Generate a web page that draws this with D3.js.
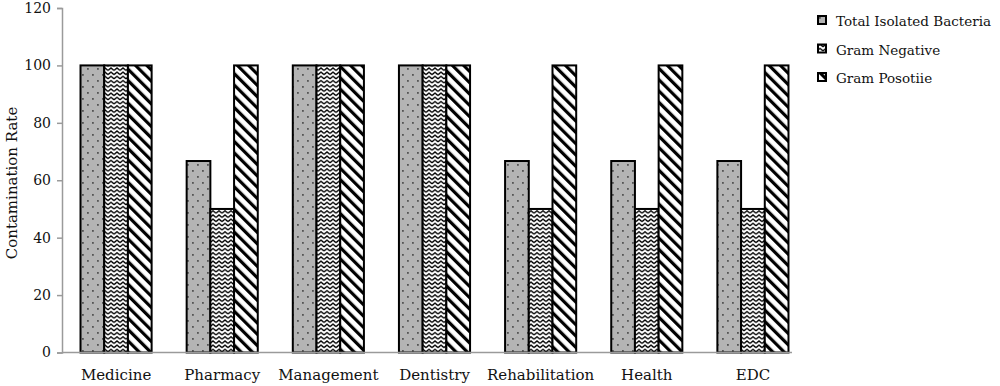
<!doctype html>
<html lang="en">
<head>
<meta charset="utf-8">
<script src="https://d3js.org/d3.v7.min.js"></script>
<style>
  body { margin: 0; background: #fff; }
  text { font-family: "DejaVu Serif", serif; fill: #111; }
</style>
</head>
<body>
<svg id="chart" width="1000" height="386"></svg>
<script>
// data
var categories = ["Medicine", "Pharmacy", "Management", "Dentistry", "Rehabilitation", "Health", "EDC"];
var seriesNames = ["Total Isolated Bacteria", "Gram Negative", "Gram Posotiie"];
var totalIsolated = [100, 66.7, 100, 100, 66.7, 66.7, 66.7];
var gramNegative = [100, 50, 100, 100, 50, 50, 50];
var gramPositive = [100, 100, 100, 100, 100, 100, 100];
var yTicks = [0, 20, 40, 60, 80, 100, 120];

var series = [totalIsolated, gramNegative, gramPositive];
var fills = ["url(#dots)", "url(#zigzag)", "url(#stripes)"];

var svg = d3.select("#chart");
var defs = svg.append("defs");

// dotted grey
var p1 = defs.append("pattern").attr("id", "dots").attr("patternUnits", "userSpaceOnUse")
  .attr("width", 10).attr("height", 12);
p1.append("rect").attr("width", 10).attr("height", 12).attr("fill", "#b4b4b4");
[[2, 2], [7, 8]].forEach(function(d) {
  p1.append("rect").attr("x", d[0]).attr("y", d[1]).attr("width", 1.8).attr("height", 1.8).attr("fill", "#555");
});

// zigzag
var p2 = defs.append("pattern").attr("id", "zigzag").attr("patternUnits", "userSpaceOnUse")
  .attr("width", 6).attr("height", 4.2);
p2.append("rect").attr("width", 6).attr("height", 4.2).attr("fill", "#fff");
p2.append("path").attr("d", "M0,3.2 L3,0.8 L6,3.2").attr("fill", "none").attr("stroke", "#000").attr("stroke-width", 1.4);

// diagonal stripes
var p3 = defs.append("pattern").attr("id", "stripes").attr("patternUnits", "userSpaceOnUse")
  .attr("width", 8).attr("height", 8).attr("patternTransform", "rotate(-45)");
p3.append("rect").attr("width", 8).attr("height", 8).attr("fill", "#fff");
p3.append("rect").attr("x", 0).attr("y", 0).attr("width", 3.2).attr("height", 8).attr("fill", "#000");

var x = d3.scaleBand().domain(categories).range([63, 806]).paddingInner(0.33).paddingOuter(0.165);
var xs = d3.scaleBand().domain(d3.range(3)).range([0, x.bandwidth()]);
var y = d3.scaleLinear().domain([0, 120]).range([352.5, 8]);

// y axis
var yAxis = svg.append("g").attr("transform", "translate(62,0)")
  .call(d3.axisLeft(y).tickValues(yTicks).tickSize(5).tickPadding(6));
yAxis.select(".domain").attr("stroke", "#9a9a9a").attr("stroke-width", 1.5);
yAxis.selectAll(".tick line").attr("stroke", "#9a9a9a").attr("stroke-width", 1.5);
yAxis.selectAll("text").style("font-size", "14px").attr("fill", "#111");

// bars
categories.forEach(function(c, i) {
  series.forEach(function(s, j) {
    svg.append("rect")
      .attr("x", x(c) + xs(j))
      .attr("y", y(s[i]))
      .attr("width", xs.bandwidth())
      .attr("height", y(0) - y(s[i]))
      .attr("fill", fills[j])
      .attr("stroke", "#000")
      .attr("stroke-width", 2);
  });
});

// x axis
var xAxis = svg.append("g").attr("transform", "translate(0," + y(0) + ")")
  .call(d3.axisBottom(x).tickSize(0).tickPadding(17));
xAxis.select(".domain").attr("d", "M62,0H792").attr("stroke", "#9a9a9a").attr("stroke-width", 1.5);
xAxis.selectAll("text").style("font-size", "15px").attr("fill", "#111");

// y label
svg.append("text")
  .attr("transform", "translate(17,183) rotate(-90)")
  .attr("text-anchor", "middle")
  .style("font-size", "15px")
  .text("Contamination Rate");

// legend
var lg = svg.append("g").attr("transform", "translate(817,15)");
seriesNames.forEach(function(n, j) {
  var row = lg.append("g").attr("transform", "translate(0," + (j * 28.5) + ")");
  row.append("rect").attr("x", 1).attr("y", 1).attr("width", 8).attr("height", 8)
    .attr("fill", fills[j]).attr("stroke", "#000").attr("stroke-width", 2);
  row.append("text").attr("x", 19).attr("y", 11).style("font-size", "13.5px").text(n);
});
</script>
</body>
</html>
